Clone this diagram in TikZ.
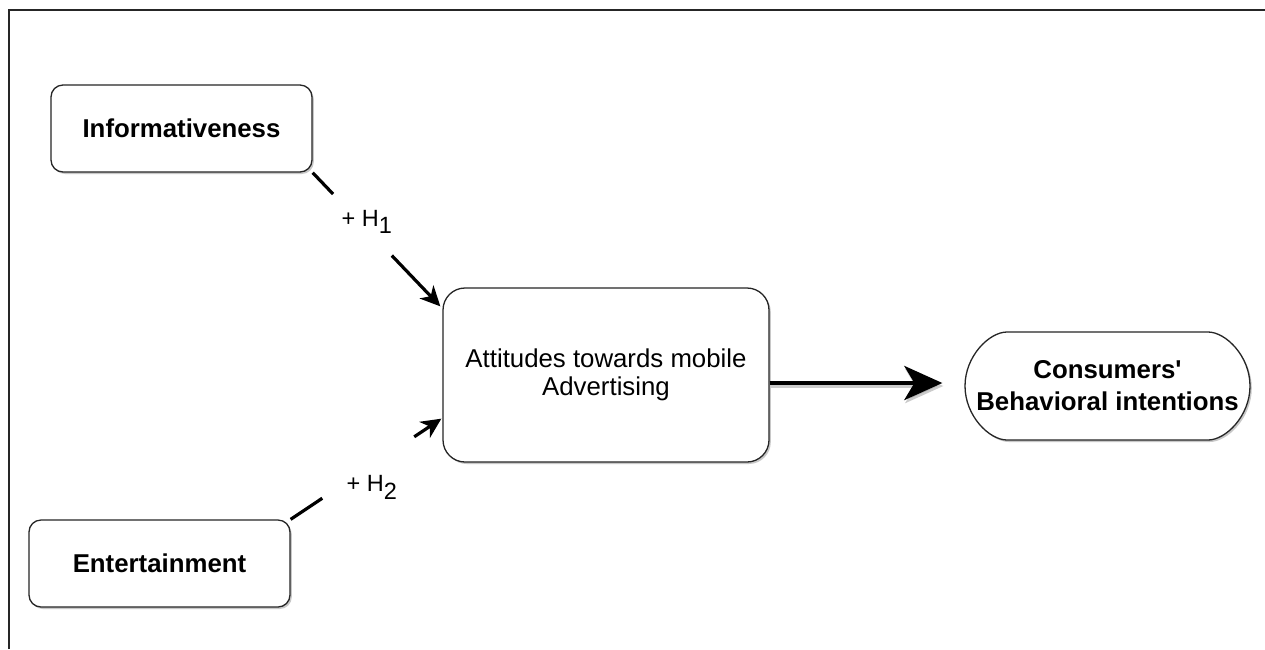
\documentclass[tikz,border=0pt]{standalone}
\usepackage{fontspec}
\setmainfont{Liberation Sans}[Ligatures=TeXOff]
\usetikzlibrary{arrows.meta,calc,shadows,shapes.misc}
\begin{document}
\begin{tikzpicture}[x=1pt,y=-1pt,
  box/.style={draw=black!85,line width=1.3pt,fill=white,rounded corners=12pt,
    drop shadow={shadow xshift=1.8pt,shadow yshift=-2pt,opacity=0.3,fill=black!70},
    inner sep=0pt,align=center},
  conn/.style={line width=3.2pt,black},
  tip/.style={-{Stealth[length=20pt,width=19pt,inset=6pt]}},
  hlabel/.style={font=\fontsize{23.5}{27}\selectfont,inner sep=0pt}]
\useasboundingbox (0,0) rectangle (1265,649);
\fill[white] (0,0) rectangle (1265,649);
% outer frame (top and left edges only)
\draw[line width=1.6pt,black!85] (9,649) -- (9,10) -- (1265,10);

% factor boxes
\node[box,minimum width=261pt,minimum height=87pt,font=\bfseries\fontsize{25.8}{30}\selectfont]
  (inf) at (181.5,128.5) {Informativeness};
\node[box,minimum width=261pt,minimum height=87pt,font=\bfseries\fontsize{25.8}{30}\selectfont]
  (ent) at (159.5,563.5) {Entertainment};
\node[box,rounded corners=22pt,minimum width=326pt,minimum height=174pt,
  font=\fontsize{25.8}{29.5}\selectfont]
  (att) at (606,375) {Attitudes towards mobile\\[-1pt]Advertising};
\node[box,rounded rectangle,minimum width=285pt,minimum height=108pt,
  font=\bfseries\fontsize{25.8}{32}\selectfont]
  (cbi) at (1107.5,386) {Consumers'\\Behavioral intentions};

% arrow end points on the attitudes box
\coordinate (a1) at ($(att.north west)+(-2,19)$);
\coordinate (a2) at ($(att.south west)+(-1,-44)$);

% H1 path, broken around its label
\draw[conn] (inf.south east) -- ($(inf.south east)!0.16!(a1)$);
\draw[conn,tip] ($(inf.south east)!0.62!(a1)$) -- (a1);
\node[hlabel] (h1) at (367,222) {+ H\textsubscript{\fontsize{23.5}{27}\selectfont 1}};

% H2 path, broken around its label
\draw[conn] (ent.north east) -- ($(ent.north east)!0.21!(a2)$);
\draw[conn,tip] ($(ent.north east)!0.82!(a2)$) -- (a2);
\node[hlabel] (h2) at (372,487) {+ H\textsubscript{\fontsize{23.5}{27}\selectfont 2}};

% main effect arrow
\coordinate (m0) at ($(att.east)+(0,8)$);
\coordinate (m1) at ($(cbi.west)+(-22,-3)$);
\draw[line width=4.6pt,black!40,opacity=0.5,-{Stealth[length=38pt,width=34pt,inset=10pt]}]
  ($(m0)+(1,3)$) -- ($(m1)+(1,3)$);
\draw[line width=4.6pt,black,-{Stealth[length=38pt,width=34pt,inset=10pt]}] (m0) -- (m1);
\end{tikzpicture}
\end{document}
